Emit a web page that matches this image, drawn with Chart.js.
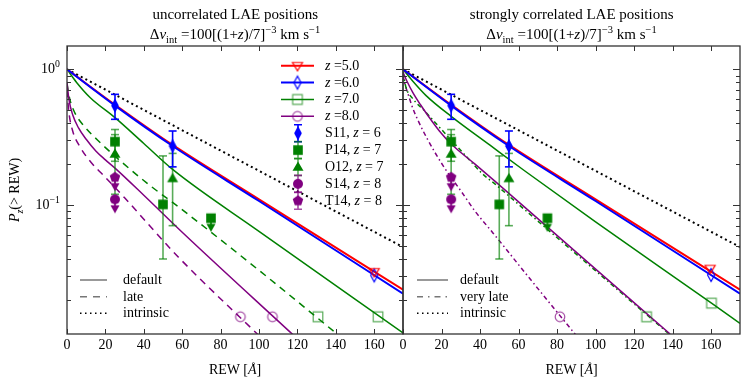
<!DOCTYPE html>
<html>
<head>
<meta charset="utf-8">
<title>P(&gt;REW)</title>
<script src="https://cdn.jsdelivr.net/npm/chart.js@4.4.1/dist/chart.umd.min.js"></script>
<style>
	html, body { margin: 0; padding: 0; background: #fff; }
	#wrap { position: relative; width: 748px; height: 385px; overflow: hidden; font-family: "Liberation Serif", "DejaVu Serif", serif; color: #000; }
	#wrap canvas { position: absolute; top: 0; }
	.txt { position: absolute; white-space: nowrap; font-size: 14px; line-height: 1; }
	.txt.big { font-size: 15px; }
	.txt sub, .txt sup { font-size: 70%; line-height: 0; }
</style>
</head>
<body>
<div id="wrap">
	<canvas id="chartLeft" width="410" height="385" style="left:0;width:410px;height:385px"></canvas>
	<canvas id="chartRight" width="352" height="385" style="left:396px;width:352px;height:385px"></canvas>
</div>
<script>
// axis ticks
let rewTicks = [0, 20, 40, 60, 80, 100, 120, 140, 160];
let yMajor = [0.1, 1];
let yMinor = [0.02, 0.03, 0.04, 0.05, 0.06, 0.07, 0.08, 0.09, 0.2, 0.3, 0.4, 0.5, 0.6, 0.7, 0.8, 0.9];
let yTickLabels = ["10<sup>0</sup>", "10<sup>\u22121</sup>"];

// model curves, [REW, P(>REW)]
let intrinsic = [[0, 1], [175, 0.049]];
let z5Default = [[0, 1], [25, 0.548], [55, 0.277], [100, 0.11], [175, 0.0238]];
let z6Default = [[0, 1], [25, 0.54], [55, 0.272], [100, 0.107], [175, 0.0222]];

// uncorrelated LAE positions
let z7Default = [[0, 1], [5, 0.8], [12, 0.62], [25, 0.44], [40, 0.284], [55, 0.183], [100, 0.064], [175, 0.0114]];
let z8Default = [[0, 0.8], [1, 0.6], [3, 0.46], [6, 0.37], [10, 0.305], [15, 0.25], [20, 0.215], [25, 0.187], [40, 0.118], [60, 0.063], [117.6, 0.0111]];
let z7Late = [[0, 0.78], [1.5, 0.6], [4, 0.48], [9, 0.38], [16, 0.3], [28, 0.21], [43, 0.14], [58, 0.097], [100, 0.033], [141, 0.0111]];
let z8Late = [[0, 0.7], [1, 0.48], [3, 0.35], [7, 0.265], [12.7, 0.205], [20, 0.16], [30, 0.113], [57.8, 0.0416], [99.4, 0.0111]];

// strongly correlated LAE positions
let z7DefaultCorr = [[0, 1], [5, 0.82], [12, 0.64], [25, 0.45], [45, 0.277], [63.3, 0.178], [100, 0.075], [160.2, 0.0189], [175, 0.0134]];
let z8DefaultCorr = [[0, 0.95], [2, 0.82], [5.2, 0.67], [9, 0.55], [13, 0.455], [19, 0.35], [25.2, 0.28], [37.4, 0.2], [47.7, 0.15], [63.3, 0.096], [138.7, 0.0112]];
let z7VeryLate = [[0, 0.95], [1.5, 0.74], [5, 0.61], [11.4, 0.49], [20, 0.36], [32, 0.235], [41.6, 0.168], [47.7, 0.143], [63.3, 0.092], [138.2, 0.0112]];
let z8VeryLate = [[0, 0.9], [1, 0.78], [2.6, 0.66], [5, 0.52], [7.8, 0.42], [13, 0.3], [20.8, 0.195], [30.4, 0.125], [37.4, 0.09], [46.8, 0.062], [53.7, 0.047], [60.7, 0.0353], [81.5, 0.0153], [90, 0.0109]];

// open symbols on the model curves
let z5Marks = [[160, 0.0322]];
let z6Marks = [[160, 0.0303]];
let z7MarksLeft = [[130.7, 0.015], [162, 0.015]];
let z8MarksLeft = [[90.3, 0.015], [107, 0.015]];
let z5MarksRight = [[159.5, 0.034]];
let z6MarksRight = [[160, 0.0305]];
let z7MarksRight = [[126.5, 0.015], [160.2, 0.0189]];
let z8MarksRight = [[81.5, 0.015]];

// observations
let s11Rew = [25, 55], s11Frac = [0.54, 0.272], s11Lo = [0.428, 0.191], s11Hi = [0.654, 0.351];
let p14Rew = [25, 50], p14Frac = [0.293, 0.101], p14Lo = [0.21, 0.04], p14Hi = [0.36, 0.23];
let p14LimRew = [75], p14LimFrac = [0.08];
let o12Rew = [25, 55], o12Frac = [0.238, 0.157], o12Lo = [0.12, 0.0704], o12Hi = [0.33, 0.24];
let s14LimRew = [25], s14LimFrac = [0.11];
let t14LimRew = [25], t14LimFrac = [0.16];

let modelLabels = ["5.0", "6.0", "7.0", "8.0"];
let obsLabels = [["S11", "6"], ["P14", "7"], ["O12", "7"], ["S14", "8"], ["T14", "8"]];

let RED = "#ff0000", BLUE = "#0000ff", GREEN = "#008000", PURPLE = "#800080";
let GREEN_L = "rgba(0,128,0,0.65)", PURPLE_L = "rgba(128,0,128,0.7)";

function makeMarker(shape, color, fill, r, arrow) {
	let ext = Math.ceil(r * 1.35 + 2);
	let arr = arrow ? r + 10 : 0;
	let c = document.createElement("canvas");
	c.width = 2 * ext;
	c.height = 2 * (ext + arr);
	let g = c.getContext("2d");
	let cx = c.width / 2, cy = c.height / 2;
	g.strokeStyle = color;
	g.fillStyle = color;
	g.lineWidth = 1.2;
	if (arrow) {
		g.lineWidth = 1.6;
		g.beginPath();
		g.moveTo(cx, cy);
		g.lineTo(cx, cy + r + 3);
		g.stroke();
		g.beginPath();
		g.moveTo(cx - 4.5, cy + r + 1);
		g.lineTo(cx + 4.5, cy + r + 1);
		g.lineTo(cx, cy + r + 9);
		g.closePath();
		g.fill();
		g.lineWidth = 1.2;
	}
	g.beginPath();
	if (shape === "triDown") {
		g.moveTo(cx - r, cy - r * 0.65); g.lineTo(cx + r, cy - r * 0.65); g.lineTo(cx, cy + r); g.closePath();
	} else if (shape === "tri") {
		g.moveTo(cx, cy - r); g.lineTo(cx + r, cy + r * 0.7); g.lineTo(cx - r, cy + r * 0.7); g.closePath();
	} else if (shape === "diamond") {
		g.moveTo(cx, cy - r * 1.3); g.lineTo(cx + r * 0.7, cy); g.lineTo(cx, cy + r * 1.3); g.lineTo(cx - r * 0.7, cy); g.closePath();
	} else if (shape === "square") {
		g.rect(cx - r, cy - r, 2 * r, 2 * r);
	} else if (shape === "circle") {
		g.arc(cx, cy, r, 0, Math.PI * 2);
	} else if (shape === "pentagon") {
		for (let k = 0; k < 5; k++) {
			let a = (-90 + 72 * k) * Math.PI / 180;
			let px = cx + Math.cos(a) * r * 1.1, py = cy + Math.sin(a) * r * 1.1;
			k ? g.lineTo(px, py) : g.moveTo(px, py);
		}
		g.closePath();
	}
	if (fill) g.fill(); else g.stroke();
	return c;
}

let mkZ5 = makeMarker("triDown", RED, false, 5);
let mkZ6 = makeMarker("diamond", BLUE, false, 5);
let mkZ7 = makeMarker("square", GREEN_L, false, 4.8);
let mkZ8 = makeMarker("circle", PURPLE_L, false, 4.8);
let mkS11 = makeMarker("diamond", BLUE, true, 5.5);
let mkP14 = makeMarker("square", GREEN, true, 4.8);
let mkP14Lim = makeMarker("square", GREEN, true, 4.8, true);
let mkO12 = makeMarker("tri", GREEN, true, 5.5);
let mkS14Lim = makeMarker("circle", PURPLE, true, 5, true);
let mkT14Lim = makeMarker("pentagon", PURPLE, true, 5, true);

function pts(arr) {
	return arr.map(function(p) { return { x: p[0], y: p[1] }; });
}

function lineDs(arr, color, width, dash) {
	return {
		data: pts(arr), showLine: true, fill: false,
		borderColor: color, borderWidth: width, borderDash: dash || [],
		pointRadius: 0, cubicInterpolationMode: "monotone"
	};
}

function markDs(xs, ys, img) {
	return {
		data: xs.map(function(x, i) { return { x: x, y: ys[i] }; }),
		showLine: false, pointStyle: img, pointRadius: 5
	};
}

function pairMarkDs(arr, img) {
	return { data: pts(arr), showLine: false, pointStyle: img, pointRadius: 5 };
}

function errDs(xs, lo, hi, color) {
	return xs.map(function(x, i) {
		return {
			data: [{ x: x, y: lo[i] }, { x: x, y: hi[i] }],
			showLine: true, borderColor: color, borderWidth: 1.6,
			pointStyle: "line", pointRadius: 4, pointBorderColor: color, pointBorderWidth: 1.6
		};
	});
}

function obsDatasets() {
	return [
		markDs(s11Rew, s11Frac, mkS11),
		markDs(p14Rew, p14Frac, mkP14),
		markDs(p14LimRew, p14LimFrac, mkP14Lim),
		markDs(o12Rew, o12Frac, mkO12),
		markDs(s14LimRew, s14LimFrac, mkS14Lim),
		markDs(t14LimRew, t14LimFrac, mkT14Lim)
	].concat(
		errDs(s11Rew, s11Lo, s11Hi, BLUE),
		errDs(p14Rew, p14Lo, p14Hi, GREEN_L),
		errDs(o12Rew, o12Lo, o12Hi, GREEN_L)
	);
}

let DOT = [2, 3.2], DASH = [7, 5.5], DASHDOT = [4.5, 3, 1.5, 3];

let leftDatasets = obsDatasets().concat([
	pairMarkDs(z5Marks, mkZ5),
	pairMarkDs(z6Marks, mkZ6),
	pairMarkDs(z7MarksLeft, mkZ7),
	pairMarkDs(z8MarksLeft, mkZ8),
	lineDs(z6Default, BLUE, 2),
	lineDs(z5Default, RED, 2),
	lineDs(z7Default, GREEN, 1.5),
	lineDs(z8Default, PURPLE, 1.5),
	lineDs(z7Late, GREEN, 1.5, DASH),
	lineDs(z8Late, PURPLE, 1.5, DASH),
	lineDs(intrinsic, "#000", 2, DOT)
]);

let rightDatasets = obsDatasets().concat([
	pairMarkDs(z5MarksRight, mkZ5),
	pairMarkDs(z6MarksRight, mkZ6),
	pairMarkDs(z7MarksRight, mkZ7),
	pairMarkDs(z8MarksRight, mkZ8),
	lineDs(z6Default, BLUE, 2),
	lineDs(z5Default, RED, 2),
	lineDs(z7DefaultCorr, GREEN, 1.5),
	lineDs(z8DefaultCorr, PURPLE, 1.5),
	lineDs(z7VeryLate, GREEN, 1.5, DASHDOT),
	lineDs(z8VeryLate, PURPLE, 1.5, DASHDOT),
	lineDs(intrinsic, "#000", 2, DOT)
]);

// frame, inward ticks on four sides, legend samples
let decor = {
	id: "decor",
	afterDatasetsDraw: function(chart, args, o) {
		let ctx = chart.ctx, a = chart.chartArea, x = chart.scales.x, y = chart.scales.y;
		ctx.save();
		ctx.strokeStyle = "#333";
		ctx.lineWidth = 1.3;
		ctx.strokeRect(a.left, a.top, a.right - a.left, a.bottom - a.top);
		ctx.lineWidth = 1;
		ctx.beginPath();
		rewTicks.forEach(function(v) {
			let px = Math.round(x.getPixelForValue(v)) + 0.5;
			ctx.moveTo(px, a.bottom); ctx.lineTo(px, a.bottom - 5);
			ctx.moveTo(px, a.top); ctx.lineTo(px, a.top + 5);
		});
		yMajor.forEach(function(v) {
			let py = Math.round(y.getPixelForValue(v)) + 0.5;
			ctx.moveTo(a.left, py); ctx.lineTo(a.left + 7, py);
			ctx.moveTo(a.right, py); ctx.lineTo(a.right - 7, py);
		});
		yMinor.forEach(function(v) {
			let py = Math.round(y.getPixelForValue(v)) + 0.5;
			ctx.moveTo(a.left, py); ctx.lineTo(a.left + 4, py);
			ctx.moveTo(a.right, py); ctx.lineTo(a.right - 4, py);
		});
		ctx.stroke();

		(o.rows || []).forEach(function(e) {
			let x0 = e.x0 - o.offset, x1 = e.x1 - o.offset, xm = (x0 + x1) / 2;
			if (e.color) {
				ctx.save();
				ctx.strokeStyle = e.color;
				ctx.lineWidth = e.width;
				ctx.setLineDash(e.dash || []);
				ctx.beginPath(); ctx.moveTo(x0, e.y); ctx.lineTo(x1, e.y); ctx.stroke();
				ctx.restore();
			}
			if (e.bar) {
				ctx.save();
				ctx.strokeStyle = e.bar;
				ctx.lineWidth = 1.6;
				ctx.beginPath();
				ctx.moveTo(xm, e.y - 8.5); ctx.lineTo(xm, e.y + 8.5);
				ctx.moveTo(xm - 4, e.y - 8.5); ctx.lineTo(xm + 4, e.y - 8.5);
				ctx.moveTo(xm - 4, e.y + 8.5); ctx.lineTo(xm + 4, e.y + 8.5);
				ctx.stroke();
				ctx.restore();
			}
			if (e.img) ctx.drawImage(e.img, xm - e.img.width / 2, e.y - e.img.height / 2);
		});
		ctx.restore();
	}
};

let LEG_Y0 = 65.7, LEG_DY = 16.88;
let topLegendMarks = [[RED, 2, mkZ5], [BLUE, 2, mkZ6], [GREEN, 1.5, mkZ7], [PURPLE, 1.5, mkZ8]];
let topLegendObs = [[BLUE, makeMarker("diamond", BLUE, true, 5.5)], [GREEN_L, mkP14], [GREEN_L, mkO12],
	[PURPLE_L, makeMarker("circle", PURPLE, true, 5)], [PURPLE_L, makeMarker("pentagon", PURPLE, true, 5)]];

let leftRows = topLegendMarks.map(function(m, i) {
	return { x0: 281, x1: 314, y: LEG_Y0 + i * LEG_DY, color: m[0], width: m[1], img: m[2] };
}).concat(topLegendObs.map(function(m, i) {
	return { x0: 281, x1: 315, y: LEG_Y0 + (i + 4) * LEG_DY, bar: m[0], img: m[1] };
})).concat([
	{ x0: 80, x1: 107, y: 280, color: "#777", width: 1.5 },
	{ x0: 80, x1: 107, y: 296.7, color: "#777", width: 1.5, dash: [7, 6] },
	{ x0: 80, x1: 107, y: 313.3, color: "#000", width: 1.5, dash: [1.5, 3.5] }
]);

let rightRows = [
	{ x0: 417, x1: 448, y: 280, color: "#777", width: 1.5 },
	{ x0: 417, x1: 448, y: 296.7, color: "#777", width: 1.5, dash: [6, 5, 1.5, 5] },
	{ x0: 417, x1: 448, y: 313.3, color: "#000", width: 1.5, dash: [1.5, 3.5] }
];

let yMin = 0.0112, yMax = 1.485;

function panelConfig(datasets, padding, rows, offset) {
	return {
		type: "scatter",
		data: { datasets: datasets },
		options: {
			responsive: false,
			animation: false,
			devicePixelRatio: 1,
			layout: { padding: padding },
			plugins: {
				legend: { display: false },
				tooltip: { enabled: false },
				decor: { rows: rows, offset: offset }
			},
			scales: {
				x: { type: "linear", min: 0, max: 175, display: false },
				y: { type: "logarithmic", min: yMin, max: yMax, display: false }
			}
		},
		plugins: [decor]
	};
}

let chartLeft = new Chart(document.getElementById("chartLeft"),
	panelConfig(leftDatasets, { left: 67, right: 7, top: 46, bottom: 51 }, leftRows, 0));
let chartRight = new Chart(document.getElementById("chartRight"),
	panelConfig(rightDatasets, { left: 7, right: 8, top: 46, bottom: 51 }, rightRows, 396));

let wrap = document.getElementById("wrap");
function addText(html, x, y, align, extra, cls) {
	let d = document.createElement("div");
	d.className = "txt" + (cls ? " " + cls : "");
	d.innerHTML = html;
	d.style.left = x + "px";
	d.style.top = y + "px";
	let tx = align === "c" ? "-50%" : (align === "r" ? "-100%" : "0");
	d.style.transform = "translate(" + tx + ",-50%)" + (extra || "");
	wrap.appendChild(d);
	return d;
}

[[chartLeft, 0], [chartRight, 396]].forEach(function(p) {
	let ch = p[0], off = p[1];
	rewTicks.forEach(function(v) {
		addText(String(v), off + ch.scales.x.getPixelForValue(v), 345, "c");
	});
	let cx = off + (ch.chartArea.left + ch.chartArea.right) / 2;
	addText("REW [<i>\u00c5</i>]", cx, 370, "c");
	addText("\u0394<i>v</i><sub>int</sub> =100[(1+<i>z</i>)/7]<sup>\u22123</sup> km s<sup>\u22121</sup>", cx, 34, "c", "", "big");
});
addText("uncorrelated LAE positions", 235.3, 14, "c", "", "big");
addText("strongly correlated LAE positions", 571.7, 14, "c", "", "big");

yMajor.forEach(function(v, i) {
	addText(yTickLabels[yMajor.length - 1 - i], 60, chartLeft.scales.y.getPixelForValue(v), "r");
});
addText("<i>P</i><sub><i>z</i></sub>(&gt; REW)", 15, 190, "c", " rotate(-90deg)");

modelLabels.forEach(function(t, i) {
	addText("<i>z</i> =" + t, 325, LEG_Y0 + i * LEG_DY, "l");
});
obsLabels.forEach(function(t, i) {
	addText(t[0] + ", <i>z</i> = " + t[1], 325, LEG_Y0 + (i + 4) * LEG_DY, "l");
});
["default", "late", "intrinsic"].forEach(function(t, i) {
	addText(t, 123, 280 + i * 16.65, "l");
});
["default", "very late", "intrinsic"].forEach(function(t, i) {
	addText(t, 460, 280 + i * 16.65, "l");
});
</script>
</body>
</html>
